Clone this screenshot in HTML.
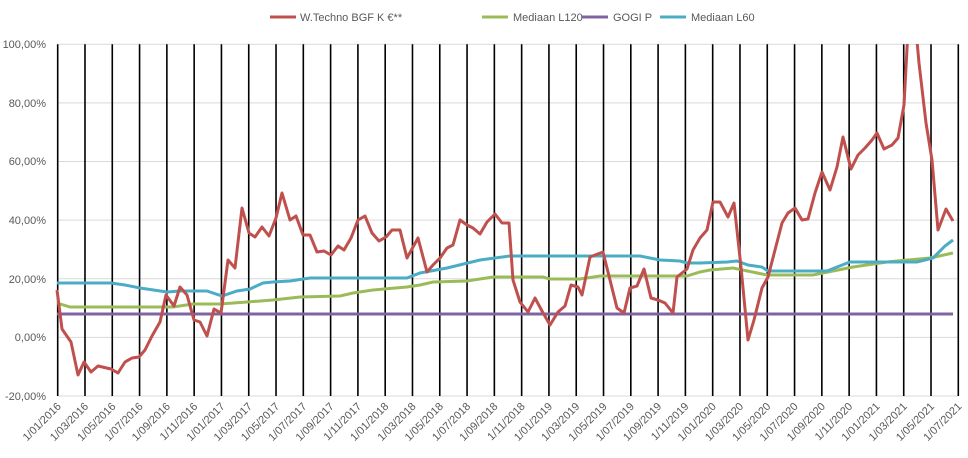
<!DOCTYPE html>
<html><head><meta charset="utf-8"><style>
html,body{margin:0;padding:0;background:#fff;}
svg text{font-family:"Liberation Sans",sans-serif;fill:#595959;font-size:11px;}
</style></head><body>
<svg width="968" height="453" viewBox="0 0 968 453" xmlns="http://www.w3.org/2000/svg">
<defs><clipPath id="c"><rect x="50" y="44" width="915" height="360"/></clipPath></defs>
<g stroke="#d9d9d9" stroke-width="1">
<line x1="57.7" x2="958.3" y1="44.3" y2="44.3"/>
<line x1="57.7" x2="958.3" y1="102.9" y2="102.9"/>
<line x1="57.7" x2="958.3" y1="161.5" y2="161.5"/>
<line x1="57.7" x2="958.3" y1="220.1" y2="220.1"/>
<line x1="57.7" x2="958.3" y1="278.8" y2="278.8"/>
<line x1="57.7" x2="958.3" y1="337.4" y2="337.4"/>
<line x1="57.7" x2="958.3" y1="396" y2="396"/>
</g>
<g id="vl" stroke="#000" stroke-width="1.6"></g>
<g text-anchor="end">
<text x="46" y="48">100,00%</text>
<text x="46" y="107">80,00%</text>
<text x="46" y="165">60,00%</text>
<text x="46" y="224">40,00%</text>
<text x="46" y="283">20,00%</text>
<text x="46" y="341">0,00%</text>
<text x="46" y="400">-20,00%</text>
</g>
<g id="xl" text-anchor="end"></g>
<polyline fill="none" stroke="#8064a2" stroke-width="3" points="57,314 953,314"/>
<polyline fill="none" stroke="#9bbb59" stroke-width="3" points="57,303 70,307 140,307 173,307 193,304 220,304 247,302 273,300 300,297 340,296 353,293 373,290 407,287 420,285 433,282 467,281 493,277 543,277 550,279 580,279 600,276 687,276 700,272 710,270 733,268 767,275 813,275 853,267 887,262 930,258 953,253"/>
<polyline fill="none" stroke="#4bacc6" stroke-width="3" points="57,283 111,283 125,285 140,288 167,292 180,291 207,291 222,296 237,291 250,289 263,283 273,282 290,281 310,278 407,278 420,273 447,268 480,260 510,256 640,256 660,260 680,261 687,263 700,263 727,262 737,261 748,265 762,267 768,271 827,271 837,267 850,262 917,262 933,258 945,246 953,240"/>
<polyline clip-path="url(#c)" fill="none" stroke="#c0504d" stroke-width="3" stroke-linejoin="round" points="57,290 62,329 71,342 78,375 84,362 91,372 98,366 111,369 118,373 125,362 132,358 139,357 145,350 152,336 160,322 166,295 174,306 180,287 187,295 194,320 200,322 207,336 214,309 221,313 228,260 235,268 242,208 249,233 255,237 262,227 269,236 276,218 282,193 290,220 296,216 303,235 310,235 317,252 324,251 331,255 338,246 344,250 351,238 358,220 365,216 372,233 379,241 386,237 392,230 400,230 407,258 418,238 427,272 433,265 440,258 447,248 453,245 460,220 467,225 473,228 480,234 487,222 495,214 502,223 509,223 513,280 520,302 528,312 535,298 542,311 550,325 558,312 565,306 571,285 578,287 582,295 590,257 603,252 610,280 617,308 624,313 630,288 637,286 644,269 651,298 658,300 665,303 673,313 677,277 687,269 693,250 700,238 707,230 713,202 720,202 728,217 734,203 741,267 748,340 754,320 762,288 768,277 775,250 782,223 788,213 795,208 802,220 808,219 815,193 822,172 830,190 837,167 843,137 851,169 858,155 865,148 872,140 877,133 884,149 892,145 898,138 904,105 908,30 916,30 919,63 926,123 932,160 938,230 946,209 953,221"/>
<g>
<line x1="270" x2="296" y1="17" y2="17" stroke="#c0504d" stroke-width="3"/>
<text x="300" y="21">W.Techno BGF K €**</text>
<line x1="482" x2="508" y1="17" y2="17" stroke="#9bbb59" stroke-width="3"/>
<text x="513" y="21">Mediaan L120</text>
<line x1="582" x2="608" y1="17" y2="17" stroke="#8064a2" stroke-width="3"/>
<text x="613" y="21">GOGI P</text>
<line x1="660" x2="686" y1="17" y2="17" stroke="#4bacc6" stroke-width="3"/>
<text x="691" y="21">Mediaan L60</text>
</g>
</svg>
<script>
var vl=document.getElementById('vl'),xl=document.getElementById('xl'),ns='http://www.w3.org/2000/svg';
for(var i=0;i<=33;i++){var x=57.7+i*900.6/33;
var l=document.createElementNS(ns,'line');l.setAttribute('x1',x);l.setAttribute('x2',x);l.setAttribute('y1',44.3);l.setAttribute('y2',396);vl.appendChild(l);
var m=1+2*i,y=2016+Math.floor((m-1)/12);m=((m-1)%12)+1;
var t=document.createElementNS(ns,'text');var tx=x+4,ty=407;t.setAttribute('x',tx);t.setAttribute('y',ty);t.setAttribute('transform','rotate(-45 '+tx+' '+ty+')');t.textContent='1/'+(m<10?'0':'')+m+'/'+y;xl.appendChild(t);}
</script>
</body></html>
